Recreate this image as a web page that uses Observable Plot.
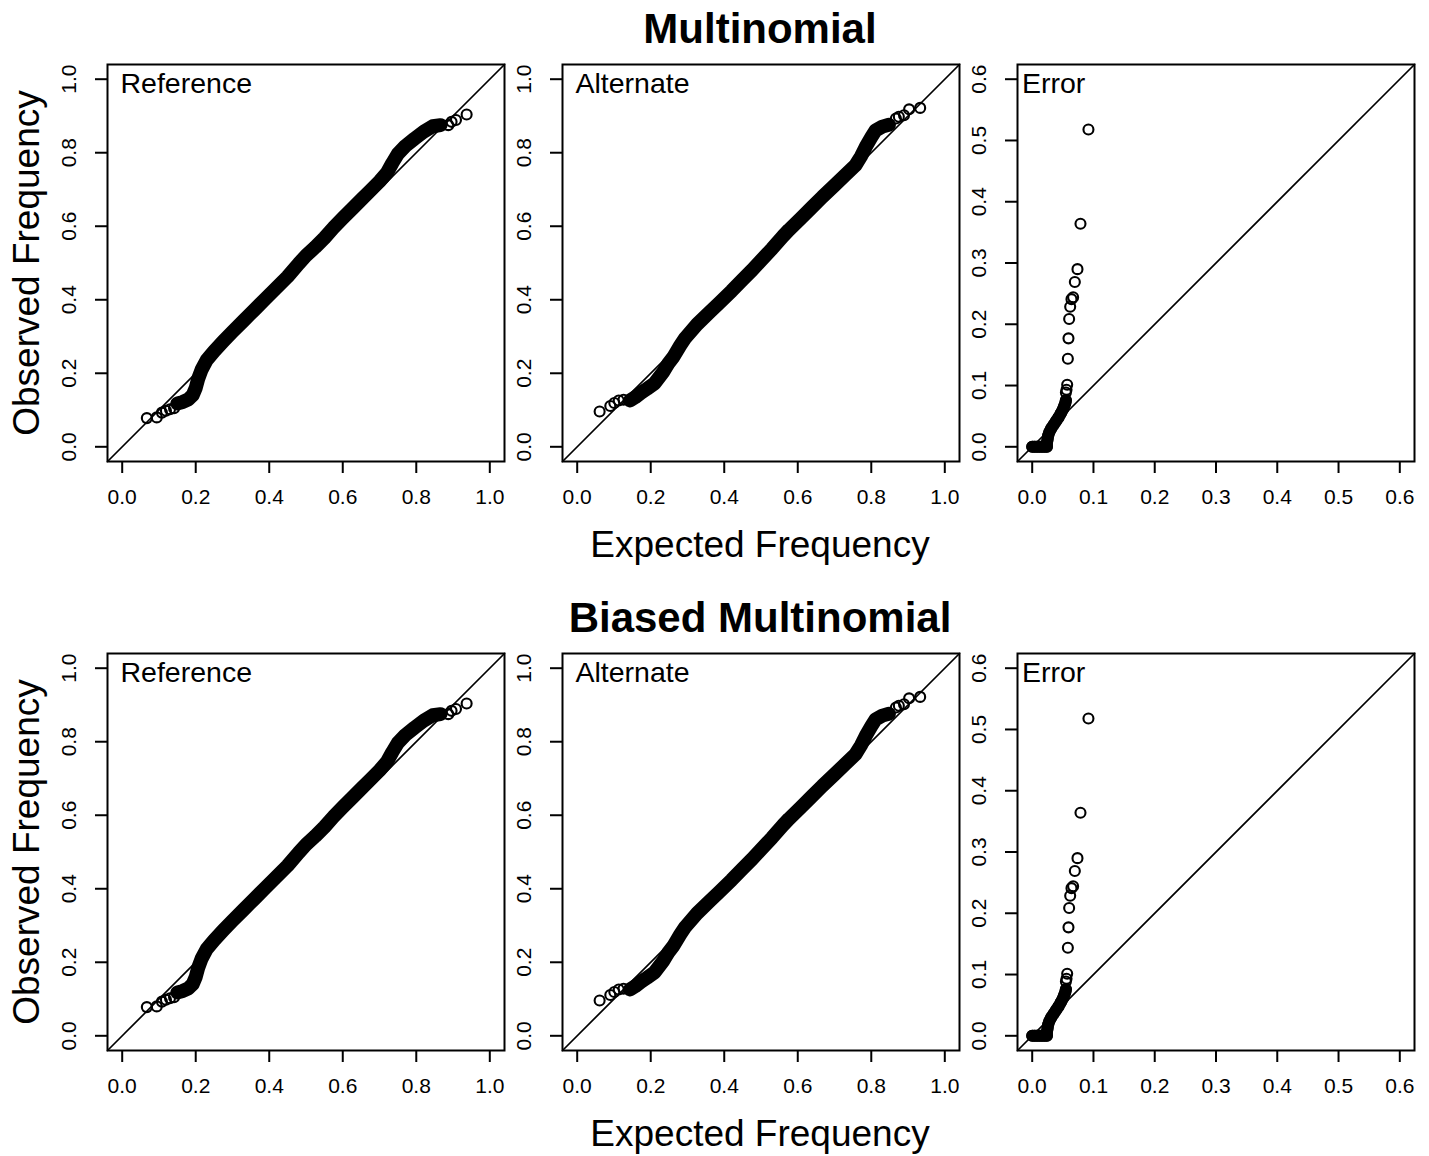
<!DOCTYPE html>
<html>
<head>
<meta charset="utf-8">
<script src="https://cdn.jsdelivr.net/npm/d3@7"></script>
<script src="https://cdn.jsdelivr.net/npm/@observablehq/plot@0.6"></script>
<style>
  html, body { margin: 0; padding: 0; background: #fff; }
  #fig { position: relative; width: 1429px; height: 1156px; background: #fff; overflow: hidden;
         font-family: "Liberation Sans", Arial, Helvetica, sans-serif; color: #000; }
  #fig > svg, #fig > figure { position: absolute; margin: 0; }
</style>
</head>
<body>
<div id="fig"></div>
<script>
// ---------------- data ----------------
// Both rows ("Multinomial" and "Biased Multinomial") show the same values.
const rowTitles = ["Multinomial", "Biased Multinomial"];
const panelLabels = ["Reference", "Alternate", "Error"];

// Reference panel: isolated points at the two ends
const refSparseExpected = [0.067, 0.094, 0.108, 0.119, 0.130, 0.141, 0.887, 0.896, 0.908, 0.937];
const refSparseObserved = [0.078, 0.080, 0.093, 0.098, 0.102, 0.105, 0.875, 0.884, 0.889, 0.904];
// Reference panel: dense run of points (centre of the band)
const refBandExpected = [0.150, 0.165, 0.180, 0.192, 0.200, 0.207, 0.216, 0.230, 0.250, 0.275, 0.300, 0.330, 0.360, 0.390, 0.420, 0.450, 0.480, 0.500, 0.525, 0.550, 0.575, 0.600, 0.625, 0.650, 0.675, 0.700, 0.720, 0.735, 0.750, 0.770, 0.795, 0.820, 0.845, 0.866];
const refBandObserved = [0.118, 0.122, 0.129, 0.141, 0.160, 0.186, 0.210, 0.236, 0.260, 0.287, 0.313, 0.343, 0.373, 0.403, 0.433, 0.463, 0.498, 0.520, 0.543, 0.568, 0.596, 0.622, 0.647, 0.672, 0.697, 0.722, 0.745, 0.772, 0.797, 0.818, 0.838, 0.857, 0.872, 0.875];

// Alternate panel
const altSparseExpected = [0.061, 0.090, 0.101, 0.113, 0.126, 0.867, 0.875, 0.889, 0.903, 0.933];
const altSparseObserved = [0.096, 0.111, 0.119, 0.126, 0.128, 0.893, 0.898, 0.902, 0.918, 0.922];
const altBandExpected = [0.144, 0.158, 0.172, 0.190, 0.210, 0.235, 0.249, 0.262, 0.280, 0.294, 0.326, 0.360, 0.385, 0.420, 0.450, 0.476, 0.500, 0.530, 0.560, 0.576, 0.610, 0.640, 0.667, 0.700, 0.730, 0.757, 0.772, 0.785, 0.800, 0.812, 0.830, 0.848];
const altBandObserved = [0.126, 0.135, 0.146, 0.158, 0.172, 0.205, 0.228, 0.245, 0.275, 0.296, 0.333, 0.366, 0.390, 0.424, 0.455, 0.481, 0.507, 0.539, 0.573, 0.590, 0.623, 0.653, 0.680, 0.711, 0.740, 0.766, 0.790, 0.816, 0.842, 0.861, 0.871, 0.876];

// Error panel
const errSparseExpected = [0.0918, 0.0788, 0.0739, 0.0696, 0.0668, 0.0641, 0.0620, 0.0603, 0.0592, 0.0582, 0.0571, 0.0560, 0.0550];
const errSparseObserved = [0.518, 0.364, 0.290, 0.269, 0.244, 0.241, 0.2285, 0.2085, 0.177, 0.1436, 0.1012, 0.093, 0.0886];
const errBandExpected = [0.000, 0.004, 0.008, 0.012, 0.016, 0.020, 0.024, 0.024, 0.025, 0.026, 0.028, 0.031, 0.035, 0.039, 0.043, 0.047, 0.050, 0.052, 0.054, 0.055];
const errBandObserved = [0.000, 0.000, 0.000, 0.000, 0.000, 0.000, 0.000, 0.006, 0.012, 0.018, 0.024, 0.030, 0.036, 0.042, 0.048, 0.055, 0.061, 0.066, 0.071, 0.076];

// axis ticks
const freqTicks = [0, 0.2, 0.4, 0.6, 0.8, 1.0];
const errTicks = [0, 0.1, 0.2, 0.3, 0.4, 0.5, 0.6];
const freqDomain = [-0.04, 1.04];
const errDomain = [-0.024, 0.624];

// ---------------- drawing ----------------
const FONT = '"Liberation Sans", Arial, Helvetica, sans-serif';
const fmt = d3.format(".1f");
const zip = (xs, ys) => xs.map((e, i) => ({e, o: ys[i]}));

const panels = [
  {label: panelLabels[0], sparse: zip(refSparseExpected, refSparseObserved), band: zip(refBandExpected, refBandObserved), domain: freqDomain, ticks: freqTicks, labelDx: 13, bandWidth: 14},
  {label: panelLabels[1], sparse: zip(altSparseExpected, altSparseObserved), band: zip(altBandExpected, altBandObserved), domain: freqDomain, ticks: freqTicks, labelDx: 13, bandWidth: 14},
  {label: panelLabels[2], sparse: zip(errSparseExpected, errSparseObserved), band: zip(errBandExpected, errBandObserved), domain: errDomain, ticks: errTicks, labelDx: 4.5, bandWidth: 12}
];

function makePanel(p) {
  return Plot.plot({
    width: 459, height: 467,
    marginLeft: 60, marginRight: 2, marginTop: 20, marginBottom: 50,
    x: {domain: p.domain, label: null},
    y: {domain: p.domain, label: null},
    style: {fontFamily: FONT, fontSize: "21px", background: "transparent", color: "#000"},
    marks: [
      Plot.line(p.band, {x: "e", y: "o", stroke: "black", strokeWidth: p.bandWidth, strokeLinecap: "round", strokeLinejoin: "round"}),
      Plot.dot(p.band.concat(p.sparse), {x: "e", y: "o", r: 5, stroke: "black", strokeWidth: 2.1, fill: "none"}),
      Plot.line(p.domain, {x: d => d, y: d => d, stroke: "black", strokeWidth: 1.7}),
      Plot.frame({stroke: "black", strokeWidth: 2}),
      Plot.axisX({ticks: p.ticks, tickSize: 12, tickPadding: 16, tickFormat: fmt, strokeWidth: 2, fontSize: 21, label: null}),
      Plot.axisY({ticks: p.ticks, tickSize: 12, tickFormat: () => "", strokeWidth: 2, label: null}),
      Plot.text(p.ticks, {y: d => d, frameAnchor: "left", dx: -38, rotate: -90, text: fmt, fontSize: 21, textAnchor: "middle", lineAnchor: "middle", fill: "black"}),
      Plot.text([p.label], {frameAnchor: "top-left", dx: p.labelDx, dy: 8, text: d => d, fontSize: 28.5, textAnchor: "start", lineAnchor: "top", fill: "black"})
    ]
  });
}

const fig = document.getElementById("fig");
const colLeft = [47, 502, 957];
const rowTop = [44, 633];

rowTop.forEach((top, r) => {
  panels.forEach((p, c) => {
    const el = makePanel(p);
    el.style.left = colLeft[c] + "px";
    el.style.top = top + "px";
    el.style.position = "absolute";
    fig.appendChild(el);
  });
});

// overlay for titles and axis titles
const overlay = d3.create("svg")
  .attr("width", 1429).attr("height", 1156)
  .style("position", "absolute").style("left", "0px").style("top", "0px")
  .style("pointer-events", "none")
  .attr("font-family", FONT).attr("fill", "black");

rowTitles.forEach((t, r) => {
  const off = r * 589;
  overlay.append("text").attr("x", 760).attr("y", 43 + off)
    .attr("text-anchor", "middle").attr("font-size", 42).attr("font-weight", "bold").text(t);
  overlay.append("text").attr("x", 760).attr("y", 557 + off)
    .attr("text-anchor", "middle").attr("font-size", 37).text("Expected Frequency");
  overlay.append("text").attr("transform", `translate(39,${263 + off}) rotate(-90)`)
    .attr("text-anchor", "middle").attr("font-size", 37).text("Observed Frequency");
});
fig.appendChild(overlay.node());
</script>
</body>
</html>
